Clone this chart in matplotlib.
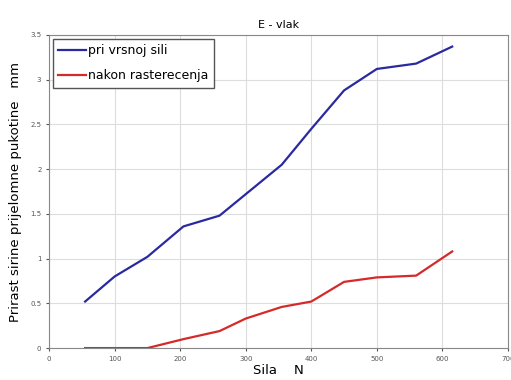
import matplotlib.pyplot as plt

sila = [55, 100, 150, 205, 260, 300, 355, 400, 450, 500, 560, 615]
pri_vrsnoj_sili = [0.52, 0.80, 1.02, 1.36, 1.48, 1.72, 2.05, 2.45, 2.88, 3.12, 3.18, 3.37]
nakon_rasterecenja = [0.0, 0.0, 0.0, 0.10, 0.19, 0.33, 0.46, 0.52, 0.74, 0.79, 0.81, 1.08]

xticks = [0, 100, 200, 300, 400, 500, 600, 700]
yticks = [0, 0.5, 1, 1.5, 2, 2.5, 3, 3.5]

fig = plt.figure(figsize=(5.11, 3.80), dpi=100)
ax = fig.add_axes([0.096, 0.084, 0.898, 0.824])

ax.plot(sila, pri_vrsnoj_sili, color='#2a2aa0', lw=1.6, label='pri vrsnoj sili')
ax.plot(sila, nakon_rasterecenja, color='#d42a2a', lw=1.6, label='nakon rasterecenja')

ax.set_xlim(0, 700)
ax.set_ylim(0, 3.5)
ax.set_xticks(xticks)
ax.set_yticks(yticks)
ax.set_xticklabels([str(v) for v in xticks])
ax.set_yticklabels(['0', '0.5', '1', '1.5', '2', '2.5', '3', '3.5'])
ax.tick_params(labelsize=5, length=2, colors='#555555')
ax.grid(True, color='#dddddd', lw=0.8)
for s in ax.spines.values():
    s.set_color('#888888')

ax.set_title('E - vlak', fontsize=8, pad=5)
ax.set_xlabel('Sila    N', fontsize=9.5, labelpad=2)
ax.set_ylabel('Prirast sirine prijelomne pukotine   mm', fontsize=9.5, labelpad=6)

leg = ax.legend(loc='upper left', fontsize=9, handlelength=2.2, handletextpad=0.2,
                borderpad=0.45, labelspacing=0.95, fancybox=False, framealpha=1,
                borderaxespad=0.3)
leg.get_frame().set_edgecolor('#555555')

plt.savefig('out.png', dpi=100)
